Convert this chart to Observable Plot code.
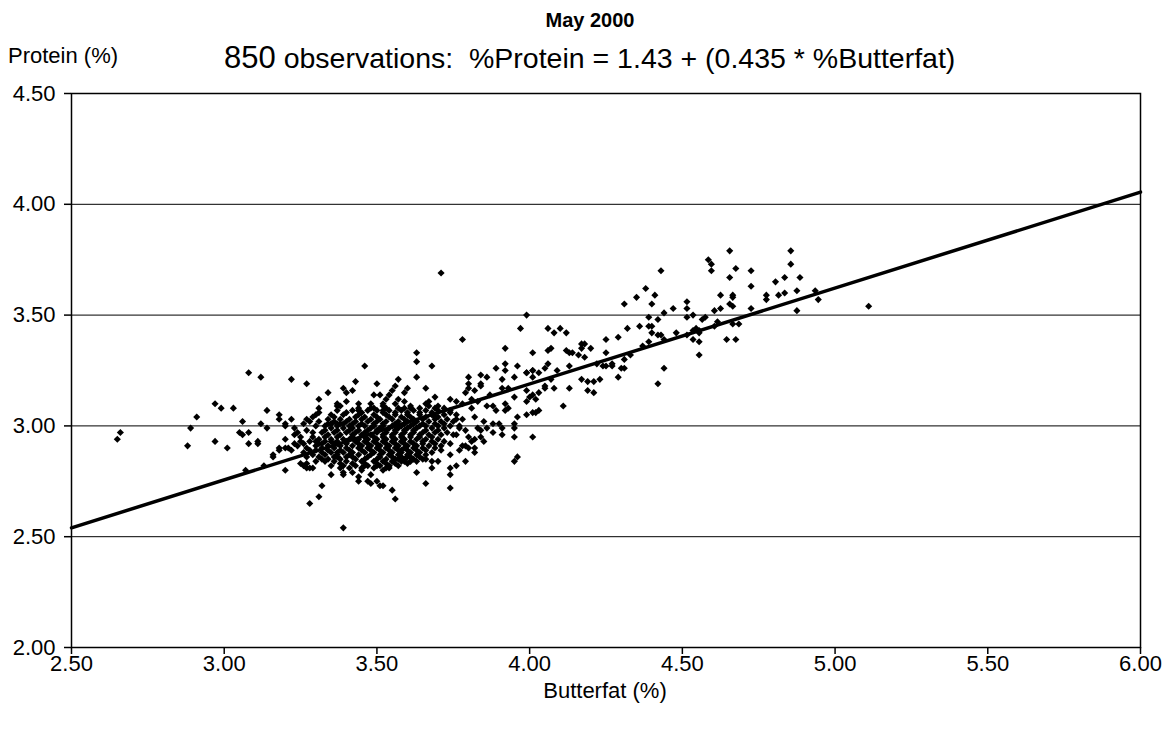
<!DOCTYPE html>
<html><head><meta charset="utf-8">
<script src="https://cdn.jsdelivr.net/npm/d3@7"></script>
<script src="https://cdn.jsdelivr.net/npm/@observablehq/plot@0.6"></script>
<style>
body{margin:0;background:#fff;font-family:"Liberation Sans",Arial,sans-serif;color:#000;}
#wrap{position:relative;width:1172px;height:735px;overflow:hidden;}
#chart{position:absolute;left:0;top:0;}
.t{position:absolute;white-space:nowrap;color:#000;line-height:1;}
</style></head><body>
<div id="wrap">
<div id="chart"></div>
<div class="t" style="left:0;width:1180px;text-align:center;top:10px;font-size:20px;font-weight:bold;">May 2000</div>
<div class="t" style="left:8px;top:45px;font-size:22px;">Protein (%)</div>
<div class="t" style="left:224px;top:42px;font-size:28.5px;"><span style="font-size:31px">850</span> observations:&nbsp; %Protein = 1.43 + (0.435 * %Butterfat)</div>
<div class="t" style="left:0;width:1210px;text-align:center;top:680px;font-size:22px;">Butterfat (%)</div>
</div>
<script>
const xTicks = [2.5, 3.0, 3.5, 4.0, 4.5, 5.0, 5.5, 6.0];
const yTicks = [2.0, 2.5, 3.0, 3.5, 4.0, 4.5];
const gridLevels = [2.5, 3.0, 3.5, 4.0];
const trendline = [{butterfat: 2.5, protein: 2.54}, {butterfat: 6.0, protein: 4.055}];

// [butterfat %, protein %]
const sparseLeft = [
[2.65,2.94],[2.66,2.97],[2.88,2.91],[2.89,2.99],[2.91,3.04],[2.97,3.10],[2.99,3.08],[3.03,3.08],[3.06,3.02],[3.08,3.24],
[2.97,2.93],[3.01,2.90],[3.05,2.97],[3.06,2.96],[3.08,2.97],[3.08,2.92],[3.11,2.92],[3.07,2.80],
[3.12,3.22],[3.22,3.21],[3.27,3.19],[3.34,3.15],[3.39,3.17],[3.31,3.12],[3.37,3.10],[3.37,3.09],[3.40,3.11],[3.31,3.08],
[3.14,3.07],[3.18,3.05],[3.18,3.03],[3.22,3.03],[3.30,3.05],[3.12,3.01],[3.20,3.01],[3.20,3.00],[3.26,3.01],[3.28,3.02],
[3.14,2.99],[3.23,2.99],[3.30,3.00],[3.31,3.02],[3.34,3.01],[3.35,3.01],[3.37,3.01],[3.38,3.01],[3.11,2.93],[3.20,2.94],
[3.25,2.93],[3.26,2.92],[3.23,2.92],[3.29,2.95],[3.30,2.93],[3.31,2.92],[3.32,2.90],[3.35,2.93],[3.37,2.92],[3.20,2.90],
[3.18,2.90],[3.18,2.89],[3.21,2.90],[3.22,2.89],[3.16,2.87],[3.16,2.86],[3.28,2.89],[3.27,2.86],[3.33,2.87],
[3.20,2.80],[3.13,2.82],[3.25,2.83],[3.26,2.82],[3.27,2.83],[3.28,2.81],[3.27,2.81],[3.29,2.81],[3.32,2.85],[3.33,2.84],
[3.35,2.82],[3.35,2.78],[3.38,2.81],[3.39,2.79],[3.32,2.73],[3.31,2.68],[3.28,2.65],[3.39,2.54],[3.37,2.88],[3.37,2.86],
[3.24,2.97],[3.27,2.98],[3.29,2.97],[3.25,2.95],[3.28,2.93],[3.24,2.91],[3.27,2.90],[3.30,2.89],[3.26,2.88],[3.29,2.87],
[3.31,2.86],[3.30,2.84],[3.23,2.96],[3.27,3.03],[3.29,3.04],[3.31,3.06]
];
const coreAbove = [
[3.71,3.69],
[3.63,3.33],[3.63,3.29],[3.68,3.27],[3.46,3.27],[3.43,3.20],[3.50,3.19],[3.57,3.21],[3.63,3.22],[3.42,3.16],[3.40,3.15],
[3.56,3.18],[3.60,3.17],[3.66,3.17],[3.49,3.14],[3.51,3.14],[3.55,3.16],[3.54,3.14],[3.59,3.15],[3.69,3.13],[3.48,3.10],
[3.52,3.10],[3.53,3.12],[3.57,3.12],[3.59,3.11],[3.67,3.11],[3.67,3.09],[3.44,3.08],[3.44,3.07],[3.49,3.08],[3.52,3.07],
[3.53,3.08],[3.57,3.08],[3.61,3.08],[3.64,3.08],[3.69,3.08],
[3.38,3.09],[3.44,3.10],[3.52,3.09],[3.56,3.10],[3.61,3.09],[3.66,3.10],[3.70,3.09],[3.48,3.08],[3.59,3.08]
];
const coreBelow = [
[3.39,2.78],[3.42,2.79],[3.44,2.75],[3.44,2.77],[3.47,2.75],[3.48,2.74],[3.48,2.78],[3.50,2.75],[3.51,2.73],[3.52,2.73],
[3.52,2.80],[3.45,2.80],[3.46,2.82],[3.50,2.82],[3.54,2.81],[3.55,2.71],[3.56,2.67],[3.66,2.74],[3.63,2.79],[3.58,2.89],
[3.57,2.85],[3.59,2.84],[3.60,2.86],[3.54,2.82],[3.68,2.81],[3.68,2.84],[3.65,2.85],[3.63,2.84],
[3.70,2.84],[3.74,2.87],[3.74,2.81],[3.76,2.82],[3.74,2.78],[3.74,2.72],[3.79,2.84],[3.77,2.89],[3.80,2.90],[3.82,2.90],
[3.82,2.88],[3.78,2.91],[3.95,2.84],[3.96,2.86],[3.95,2.95],[4.01,2.95],[3.91,2.96],[3.88,2.97],[3.84,2.95],[3.85,2.93],
[3.80,2.95],[3.81,2.93],[3.74,2.92],[3.71,2.89],[3.76,2.96],[3.79,2.91]
];
const coreDense = [
[3.37,3.07],[3.42,3.07],[3.47,3.07],[3.50,3.07],[3.54,3.07],[3.58,3.07],[3.62,3.07],[3.66,3.07],[3.70,3.07],[3.74,3.07],
[3.40,3.06],[3.45,3.06],[3.52,3.06],[3.56,3.06],[3.60,3.06],[3.64,3.06],[3.68,3.06],
[3.35,3.05],[3.39,3.05],[3.44,3.05],[3.49,3.05],[3.53,3.05],[3.56,3.05],[3.60,3.05],[3.64,3.05],[3.68,3.05],[3.72,3.05],[3.76,3.05],
[3.36,3.04],[3.43,3.04],[3.46,3.04],[3.50,3.04],[3.54,3.04],[3.58,3.04],[3.61,3.04],[3.66,3.04],[3.70,3.04],
[3.34,3.03],[3.38,3.03],[3.41,3.03],[3.45,3.03],[3.48,3.03],[3.51,3.03],[3.55,3.03],[3.59,3.03],[3.62,3.03],[3.65,3.03],[3.69,3.03],[3.73,3.03],[3.78,3.03],
[3.36,3.02],[3.40,3.02],[3.43,3.02],[3.47,3.02],[3.50,3.02],[3.53,3.02],[3.57,3.02],[3.60,3.02],[3.63,3.02],[3.67,3.02],[3.71,3.02],[3.75,3.02],
[3.35,3.01],[3.39,3.01],[3.42,3.01],[3.45,3.01],[3.49,3.01],[3.52,3.01],[3.56,3.01],[3.59,3.01],[3.62,3.01],[3.65,3.01],[3.69,3.01],[3.72,3.01],
[3.33,3.00],[3.37,3.00],[3.41,3.00],[3.44,3.00],[3.46,3.00],[3.49,3.00],[3.52,3.00],[3.55,3.00],[3.58,3.00],[3.61,3.00],[3.64,3.00],[3.66,3.00],[3.70,3.00],[3.74,3.00],[3.77,3.00],
[3.35,2.99],[3.39,2.99],[3.42,2.99],[3.48,2.99],[3.51,2.99],[3.54,2.99],[3.57,2.99],[3.60,2.99],[3.63,2.99],[3.68,2.99],[3.72,2.99],
[3.33,2.98],[3.37,2.98],[3.41,2.98],[3.44,2.98],[3.47,2.98],[3.50,2.98],[3.53,2.98],[3.56,2.98],[3.59,2.98],[3.62,2.98],[3.66,2.98],[3.70,2.98],
[3.32,2.97],[3.36,2.97],[3.40,2.97],[3.43,2.97],[3.46,2.97],[3.50,2.97],[3.53,2.97],[3.56,2.97],[3.59,2.97],[3.62,2.97],[3.65,2.97],[3.69,2.97],[3.73,2.97],
[3.34,2.96],[3.38,2.96],[3.42,2.96],[3.45,2.96],[3.48,2.96],[3.52,2.96],[3.55,2.96],[3.58,2.96],[3.61,2.96],[3.64,2.96],[3.67,2.96],[3.71,2.96],[3.75,2.96],
[3.33,2.95],[3.37,2.95],[3.42,2.95],[3.46,2.95],[3.49,2.95],[3.52,2.95],[3.55,2.95],[3.58,2.95],[3.61,2.95],[3.64,2.95],[3.68,2.95],
[3.31,2.94],[3.35,2.94],[3.39,2.94],[3.41,2.94],[3.44,2.94],[3.47,2.94],[3.50,2.94],[3.53,2.94],[3.56,2.94],[3.59,2.94],[3.63,2.94],[3.66,2.94],[3.70,2.94],
[3.33,2.93],[3.37,2.93],[3.40,2.93],[3.43,2.93],[3.46,2.93],[3.49,2.93],[3.52,2.93],[3.55,2.93],[3.58,2.93],[3.61,2.93],[3.65,2.93],[3.68,2.93],[3.72,2.93],
[3.32,2.92],[3.36,2.92],[3.40,2.92],[3.44,2.92],[3.47,2.92],[3.50,2.92],[3.53,2.92],[3.56,2.92],[3.59,2.92],[3.62,2.92],[3.65,2.92],[3.69,2.92],
[3.30,2.91],[3.34,2.91],[3.38,2.91],[3.42,2.91],[3.45,2.91],[3.48,2.91],[3.51,2.91],[3.54,2.91],[3.57,2.91],[3.60,2.91],[3.63,2.91],[3.67,2.91],[3.71,2.91],
[3.36,2.90],[3.40,2.90],[3.44,2.90],[3.47,2.90],[3.50,2.90],[3.53,2.90],[3.56,2.90],[3.59,2.90],[3.62,2.90],[3.65,2.90],[3.69,2.90],
[3.34,2.89],[3.38,2.89],[3.41,2.89],[3.45,2.89],[3.48,2.89],[3.51,2.89],[3.54,2.89],[3.57,2.89],[3.60,2.89],[3.63,2.89],[3.66,2.89],
[3.32,2.88],[3.35,2.88],[3.39,2.88],[3.42,2.88],[3.46,2.88],[3.49,2.88],[3.52,2.88],[3.55,2.88],[3.58,2.88],[3.61,2.88],[3.64,2.88],[3.68,2.88],
[3.37,2.87],[3.41,2.87],[3.44,2.87],[3.48,2.87],[3.51,2.87],[3.54,2.87],[3.57,2.87],[3.60,2.87],[3.63,2.87],[3.66,2.87],
[3.36,2.86],[3.40,2.86],[3.42,2.86],[3.47,2.86],[3.51,2.86],[3.55,2.86],[3.58,2.86],[3.61,2.86],[3.64,2.86],
[3.34,2.85],[3.38,2.85],[3.43,2.85],[3.46,2.85],[3.50,2.85],[3.53,2.85],[3.56,2.85],[3.59,2.85],[3.62,2.85],[3.66,2.85],
[3.36,2.84],[3.40,2.84],[3.45,2.84],[3.49,2.84],[3.52,2.84],[3.55,2.84],[3.58,2.84],[3.61,2.84],
[3.38,2.83],[3.42,2.83],[3.46,2.83],[3.50,2.83],[3.53,2.83],[3.56,2.83],[3.60,2.83],
[3.39,2.82],[3.43,2.82],[3.47,2.82],[3.51,2.82],[3.54,2.82],[3.57,2.82],
[3.41,2.81],[3.45,2.81],[3.49,2.81],[3.53,2.81]
];
const midRange = [
[3.97,3.44],[3.78,3.39],[3.92,3.35],[4.01,3.33],[3.92,3.28],[3.89,3.26],[3.96,3.27],[3.92,3.25],[3.84,3.23],[3.86,3.22],
[3.80,3.22],[3.91,3.21],[3.95,3.22],[3.99,3.24],[4.01,3.25],[3.80,3.19],[3.84,3.19],[3.84,3.18],[3.80,3.17],[3.79,3.15],
[3.82,3.16],[3.87,3.14],[3.91,3.17],[3.93,3.17],[3.99,3.16],[4.03,3.15],[4.02,3.12],[4.00,3.13],[3.99,3.11],[3.74,3.12],
[3.76,3.11],[3.78,3.10],[3.81,3.12],[3.83,3.11],[3.92,3.10],[3.95,3.13],[3.88,3.09],[3.89,3.07],[3.93,3.08],[3.92,3.07],
[3.81,3.08],[3.86,3.09],[3.96,3.04],[3.99,3.05],[4.02,3.06],[3.82,3.04],[3.85,3.02],[3.88,3.01],[3.90,3.01],[3.95,3.01],
[3.95,2.99],[3.91,2.99],[3.83,2.99],[3.84,2.98],[3.86,2.99],[3.77,2.99],[3.79,2.98],[3.82,2.94],[3.76,3.03],[3.74,3.06],
[3.72,3.08],[3.69,3.04]
];
const upperMid = [
[4.43,3.70],[4.38,3.62],[4.35,3.58],[4.41,3.59],[4.40,3.55],[4.31,3.55],[4.47,3.53],[4.44,3.51],[4.42,3.48],[4.39,3.49],
[3.99,3.50],[4.36,3.45],[4.39,3.45],[4.40,3.45],[4.32,3.44],[4.06,3.44],[4.10,3.44],[4.08,3.42],[4.12,3.42],[4.40,3.42],
[4.42,3.41],[4.43,3.41],[4.29,3.40],[4.25,3.39],[4.48,3.42],[4.44,3.39],[4.39,3.38],[4.37,3.36],[4.17,3.37],[4.18,3.37],
[4.17,3.35],[4.20,3.35],[4.07,3.35],[4.06,3.34],[4.12,3.34],[4.13,3.33],[4.14,3.33],[4.16,3.32],[4.18,3.31],[4.25,3.33],
[4.33,3.32],[4.31,3.30],[4.06,3.28],[4.05,3.26],[4.13,3.27],[4.09,3.25],[4.22,3.28],[4.24,3.27],[4.25,3.27],[4.27,3.28],
[4.27,3.27],[4.30,3.26],[4.31,3.26],[4.01,3.25],[3.99,3.24],[4.03,3.24],[4.01,3.22],[4.07,3.21],[4.17,3.21],[4.19,3.20],
[4.21,3.20],[4.23,3.21],[4.29,3.22],[4.05,3.18],[4.05,3.17],[4.08,3.17],[4.13,3.17],[4.19,3.16],[4.21,3.15],[4.44,3.26],
[4.42,3.19],[4.01,3.14],[4.11,3.09],[4.03,3.07],[4.01,3.06]
];
const highRange = [
[4.655,3.79],[4.855,3.79],[4.585,3.75],[4.595,3.73],[4.595,3.70],[4.675,3.71],[4.725,3.70],[4.655,3.67],[4.855,3.73],[4.725,3.63],
[4.835,3.67],[4.885,3.67],[4.805,3.65],[4.625,3.59],[4.665,3.58],[4.665,3.59],[4.655,3.55],[4.665,3.54],[4.775,3.59],[4.775,3.57],
[4.815,3.59],[4.835,3.60],[4.875,3.61],[4.935,3.61],[4.945,3.57],[4.875,3.52],[4.515,3.56],[4.515,3.53],[4.625,3.53],[4.605,3.52],
[4.725,3.53],[4.515,3.49],[4.535,3.50],[4.565,3.48],[4.575,3.49],[4.615,3.47],[4.605,3.45],[4.665,3.46],[4.685,3.46],[4.515,3.41],
[4.535,3.43],[4.545,3.44],[4.555,3.43],[4.555,3.42],[4.535,3.39],[4.555,3.38],[4.645,3.39],[4.675,3.39],[4.555,3.32],[5.11,3.54]
];

const observations = [...sparseLeft, ...coreAbove, ...coreBelow, ...coreDense, ...midRange, ...upperMid, ...highRange]
  .map(([b, p]) => ({butterfat: b, protein: p}));

const fmt = d3.format(".2f");
const chart = Plot.plot({
  width: 1172,
  height: 735,
  marginLeft: 71,
  marginRight: 32,
  marginTop: 93,
  marginBottom: 88,
  style: {fontFamily: "'Liberation Sans', Arial, sans-serif", fontSize: "22px", color: "#000", background: "#fff"},
  x: {domain: [2.5, 6.0], label: null},
  y: {domain: [2.0, 4.5], label: null},
  marks: [
    Plot.ruleY(gridLevels, {stroke: "#000", strokeWidth: 1}),
    Plot.axisX({ticks: xTicks, tickFormat: fmt, tickSize: 7, tickPadding: 1, label: null, stroke: "#000", strokeWidth: 1.5}),
    Plot.axisY({ticks: yTicks, tickFormat: fmt, tickSize: 7, tickPadding: 9, label: null, stroke: "#000", strokeWidth: 1.5}),
    Plot.dot(observations, {x: "butterfat", y: "protein", symbol: "diamond2", r: 3.2, fill: "#000", stroke: "none"}),
    Plot.line(trendline, {x: "butterfat", y: "protein", stroke: "#000", strokeWidth: 3.5}),
    Plot.frame({stroke: "#000", strokeWidth: 1.5})
  ]
});
document.getElementById("chart").appendChild(chart);
</script>
</body></html>
